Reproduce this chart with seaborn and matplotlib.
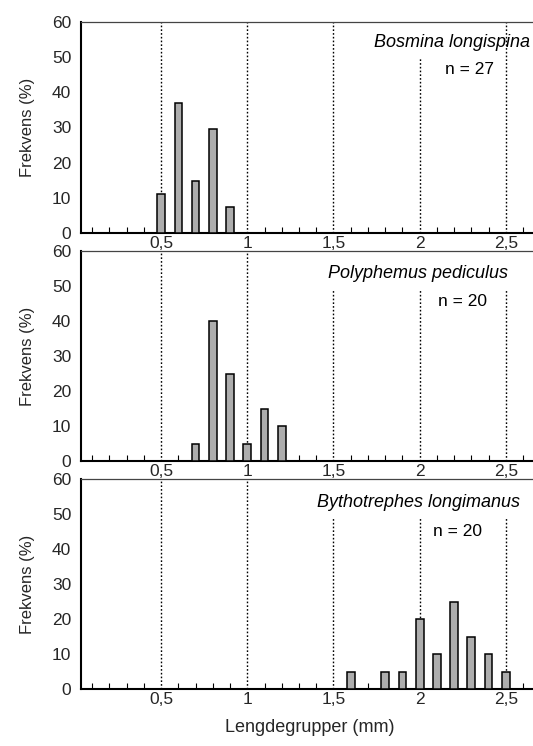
import matplotlib
matplotlib.use("Agg")
import matplotlib.pyplot as plt
import seaborn as sns
import pandas as pd
import numpy as np

# --- data ---
arter = ["Bosmina longispina", "Polyphemus pediculus", "Bythotrephes longimanus"]
antall = [27, 20, 20]

lengde_bosmina = [0.5, 0.6, 0.7, 0.8, 0.9]
frekv_bosmina = [11.1, 37.0, 14.8, 29.6, 7.4]

lengde_polyphemus = [0.7, 0.8, 0.9, 1.0, 1.1, 1.2]
frekv_polyphemus = [5, 40, 25, 5, 15, 10]

lengde_bytho = [1.6, 1.8, 1.9, 2.0, 2.1, 2.2, 2.3, 2.4, 2.5]
frekv_bytho = [5, 5, 5, 20, 10, 25, 15, 10, 5]

x_ticks = [0.5, 1.0, 1.5, 2.0, 2.5]
x_ticklabels = ["0,5", "1", "1,5", "2", "2,5"]
y_ticks = [0, 10, 20, 30, 40, 50, 60]

sns.set_theme(style="white")
plt.rcParams['font.family'] = ['Liberation Sans', 'DejaVu Sans']

fig = plt.figure(figsize=(5.33, 7.46), dpi=100)

# panel positions (left, bottom, width, height) in figure fraction
posisjoner = [
    [0.152, 0.6877, 0.86, 0.2828],
    [0.152, 0.3820, 0.86, 0.2815],
    [0.152, 0.0764, 0.86, 0.2810],
]
tekst_pos = [
    ((2.64, 54.3), (2.29, 46.4)),
    ((2.51, 53.7), (2.25, 45.7)),
    ((2.58, 53.4), (2.22, 45.0)),
]
# where dotted lines stop below the text (per panel)
linje_topp = [
    {2.0: 50},
    {1.5: 49, 2.0: 49, 2.5: 49},
    {1.5: 49, 2.0: 49, 2.5: 49},
]

datasett = [
    (lengde_bosmina, frekv_bosmina),
    (lengde_polyphemus, frekv_polyphemus),
    (lengde_bytho, frekv_bytho),
]

for i, (pos, (lengde, frekv)) in enumerate(zip(posisjoner, datasett)):
    ax = fig.add_axes(pos)
    ax.patch.set_visible(False)
    df = pd.DataFrame({"lengde": lengde, "frekv": frekv})

    # dotted reference lines
    for xv in x_ticks:
        ytop = linje_topp[i].get(xv, 60)
        ax.vlines(xv, 0, ytop, colors="black", linestyles=(0, (1.2, 1.5)),
                  linewidth=1.0, zorder=1)

    sns.barplot(data=df, x="lengde", y="frekv", native_scale=True, width=0.45,
                color="#adadad", edgecolor="black", linewidth=1.1,
                saturation=1, ax=ax, zorder=3)

    ax.set_xlim(0.035, 2.695)
    ax.set_ylim(0, 60)
    ax.set_yticks(y_ticks)
    ax.set_xticks(x_ticks)
    ax.set_xticklabels(x_ticklabels)
    ax.set_xticks(np.arange(0.1, 2.65, 0.1), minor=True)
    ax.tick_params(axis="x", which="major", length=0, pad=2, labelsize=12.5)
    ax.tick_params(axis="x", which="minor", direction="in", length=4,
                   width=0.8, color="black", bottom=True)
    ax.tick_params(axis="y", length=0, pad=7, labelsize=12.5)
    ax.set_xlabel("")
    ax.set_ylabel("Frekvens (%)", fontsize=12, labelpad=12)

    for side in ["left", "bottom"]:
        ax.spines[side].set_color("black")
        ax.spines[side].set_linewidth(1.5)
    ax.spines["right"].set_visible(False)
    ax.spines["top"].set_color("#444444")
    ax.spines["top"].set_linewidth(0.9)

    (nx, ny), (mx, my) = tekst_pos[i]
    ax.text(nx, ny, arter[i], ha="right", va="center", style="italic",
            fontsize=13, color="black", zorder=5)
    ax.text(mx, my, f"n = {antall[i]}", ha="center", va="center",
            fontsize=12.5, color="black", zorder=5)

    if i == 2:
        ax.set_xlabel("Lengdegrupper (mm)", fontsize=13, labelpad=9)

fig.savefig("out.png", dpi=100)
